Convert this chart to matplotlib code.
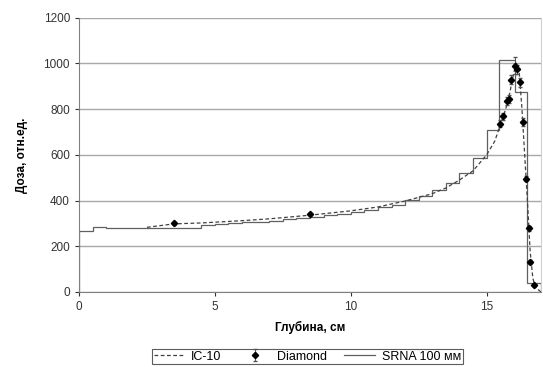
import numpy as np
import matplotlib
matplotlib.use("Agg")
import matplotlib.pyplot as plt

plt.rcParams["font.family"] = ["Liberation Sans", "DejaVu Sans"]

# IC-10 depth-dose curve
ic_depth = [2.5, 3.5, 4.5, 6.0, 7.0, 8.5, 10.0, 11.0, 12.0, 13.0, 13.5, 14.0, 14.5,
            15.0, 15.3, 15.5, 15.7, 15.85, 16.0, 16.1, 16.2, 16.3, 16.4, 16.5,
            16.6, 16.7, 16.8, 17.0]
ic_dose = [283, 298, 302, 312, 320, 336, 355, 372, 398, 430, 455, 490, 530,
           600, 660, 730, 800, 870, 960, 1000, 960, 800, 600, 400,
           180, 60, 20, 0]

# Diamond detector points
dm_depth = [3.5, 8.5, 15.5, 15.6, 15.75, 15.81, 15.9, 16.06, 16.12, 16.24,
            16.33, 16.46, 16.55, 16.61, 16.73]
dm_dose = [300, 340, 736, 768, 835, 845, 928, 990, 975, 918,
           742, 496, 278, 132, 31]
dm_err = [6, 6, 15, 15, 18, 18, 20, 38, 20, 20, 18, 12, 10, 8, 5]

# SRNA 100 mm step histogram (bin edges and values)
srna_edges = [0, 0.5, 1.0, 4.5, 5.0, 5.5, 6.0, 6.5, 7.0, 7.5, 8.0, 8.5, 9.0,
              9.5, 10.0, 10.5, 11.0, 11.5, 12.0, 12.5, 13.0, 13.5, 14.0, 14.5,
              15.0, 15.47, 16.05, 16.5, 17.0]
srna_dose = [267, 285, 278, 292, 296, 300, 304, 308, 312, 318, 324, 330, 336,
             342, 350, 360, 370, 382, 401, 420, 445, 475, 519, 585,
             707, 1017, 874, 40]

fig = plt.figure(figsize=(5.43, 3.67), dpi=100)
ax = fig.add_axes([0.1455, 0.2044, 0.9963 - 0.1455, 0.9518 - 0.2044])

ax.yaxis.grid(True, color="#a8a8a8", lw=1.0)
ax.set_axisbelow(True)

ax.stairs(srna_dose, srna_edges, color="#606060", lw=0.9, label="SRNA 100 мм")
ax.plot(ic_depth, ic_dose, color="#404040", lw=0.9, ls=(0, (3, 2)), label="IC-10")
ax.errorbar(dm_depth, dm_dose, yerr=dm_err, fmt="D", color="black", ms=3.2,
            ecolor="#555555", elinewidth=0.7, capsize=1.5, label="Diamond")

ax.set_xlim(0, 17)
ax.set_ylim(0, 1200)
ax.set_xticks([0, 5, 10, 15])
ax.set_yticks(range(0, 1201, 200))
ax.tick_params(labelsize=8.5, colors="#333333", length=3, width=0.8)
ax.spines["top"].set_visible(False)
ax.spines["right"].set_color("#d0d0d0")
ax.spines["left"].set_color("#808080")
ax.spines["bottom"].set_color("#808080")

ax.set_xlabel("Глубина, см", fontsize=8.5, fontweight="bold", labelpad=6)
ax.set_ylabel("Доза, отн.ед.", fontsize=8.5, fontweight="bold", labelpad=11)

h, l = ax.get_legend_handles_labels()
order = [l.index("IC-10"), l.index("Diamond"), l.index("SRNA 100 мм")]
leg = fig.legend([h[i] for i in order], [l[i] for i in order], ncol=3,
                 loc="upper center", bbox_to_anchor=(0.566, 0.05),
                 fontsize=9, frameon=True, fancybox=False, borderpad=0.15,
                 handlelength=2.5, columnspacing=1.4, handletextpad=0.5,
                 borderaxespad=0.0)
leg.get_frame().set_edgecolor("#333333")
leg.get_frame().set_linewidth(0.8)

fig.savefig("out.png", dpi=100)
